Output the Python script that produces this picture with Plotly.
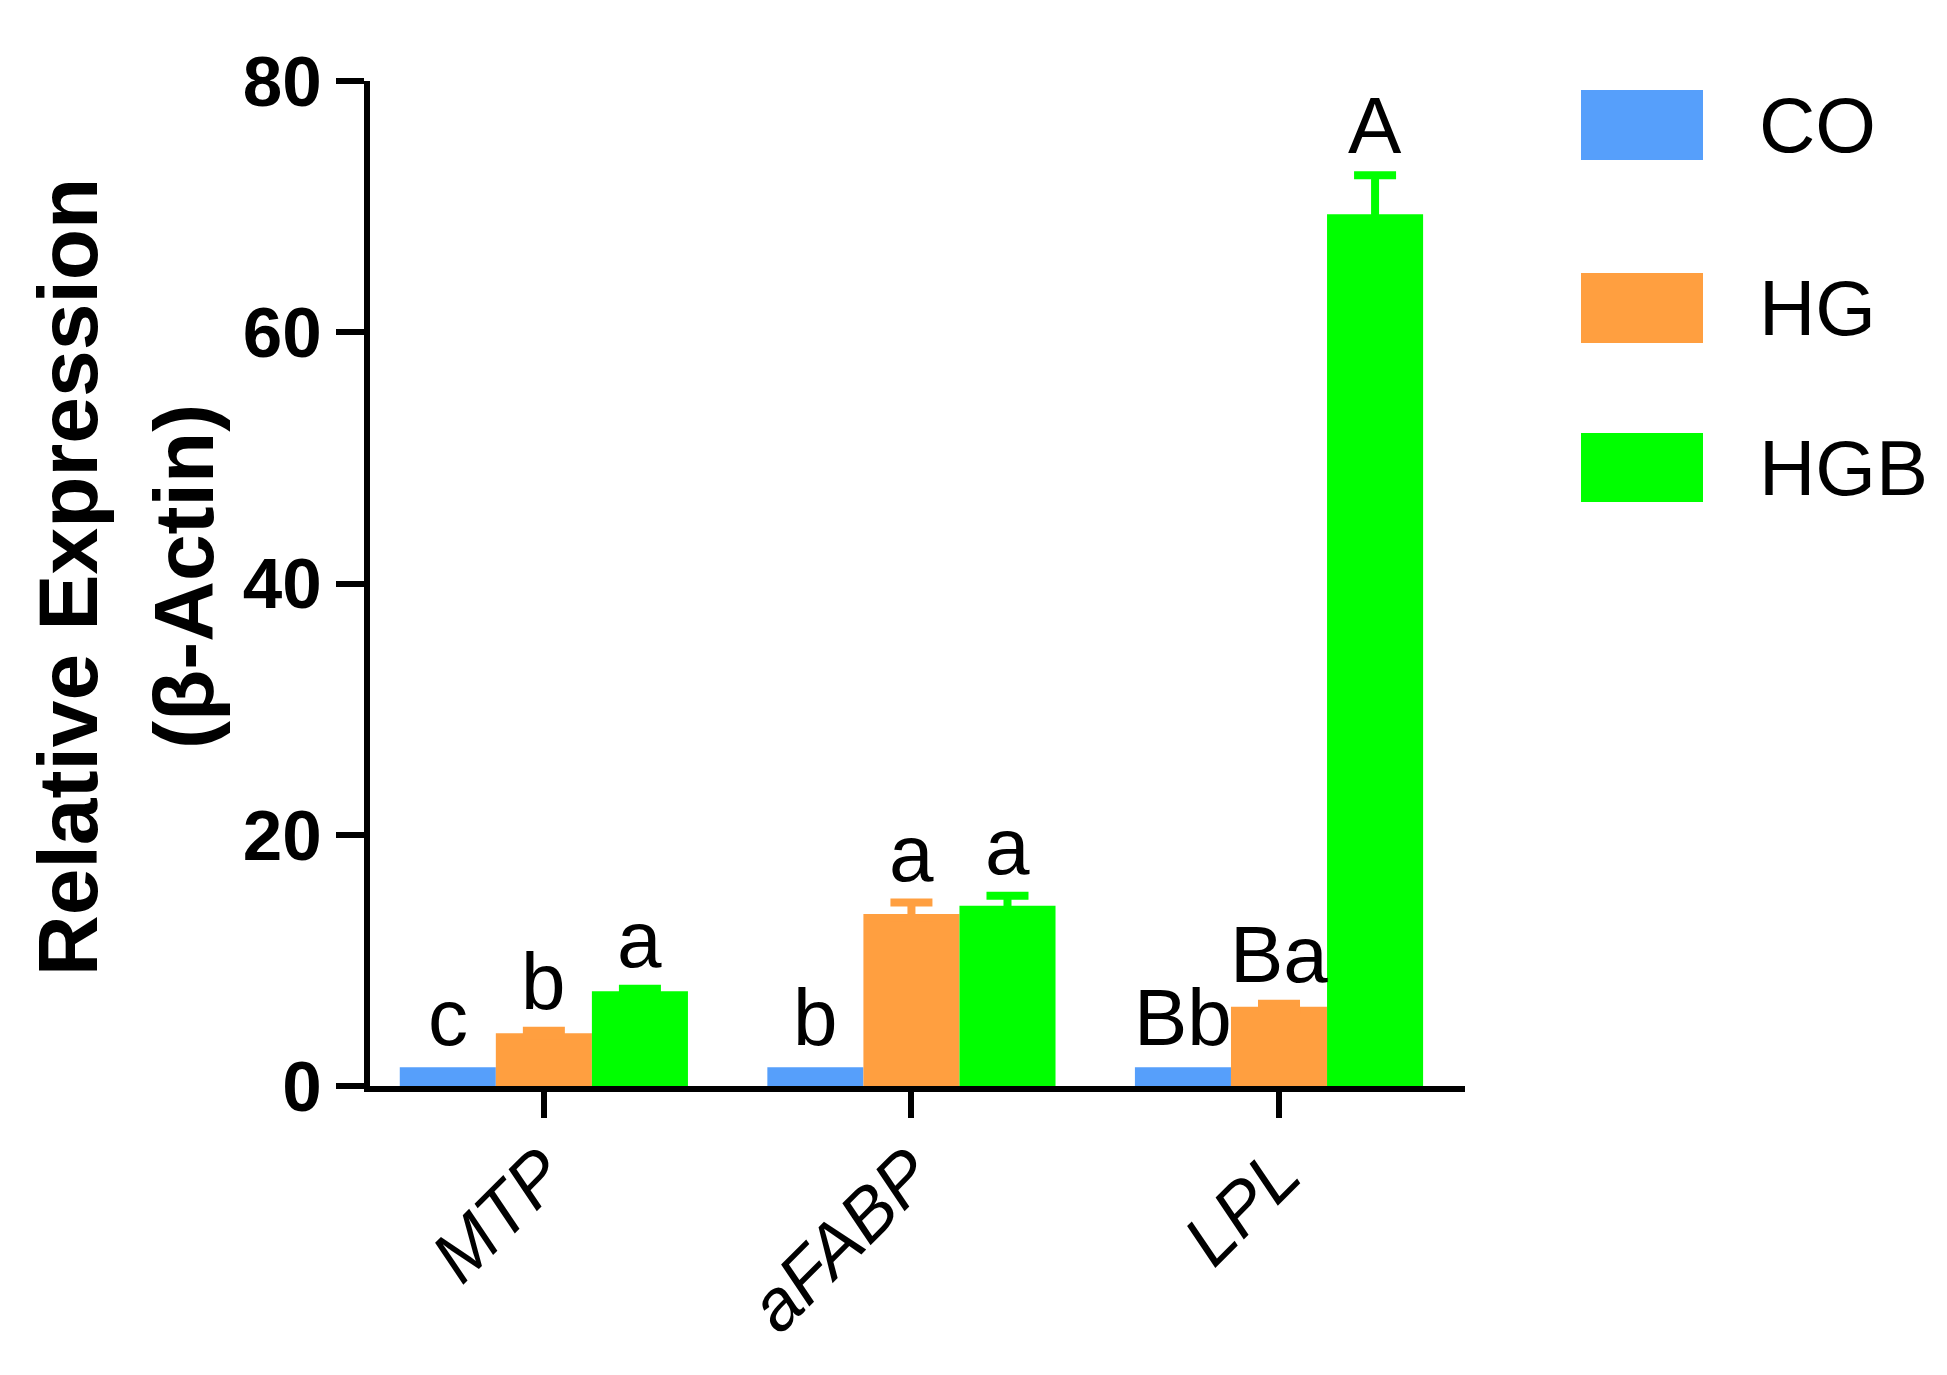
import plotly.graph_objects as go

# ---------------- data ----------------
genes = ["MTP", "aFABP", "LPL"]
series = ["CO", "HG", "HGB"]
colors = ["#569FFB", "#FF9F40", "#00FF00"]
co_vals = [1.5, 1.5, 1.5]
hg_vals = [4.2, 13.7, 6.3]
hgb_vals = [7.55, 14.35, 69.4]
co_err = [0.0, 0.0, 0.0]
hg_err = [0.2, 0.9, 0.25]
hgb_err = [0.2, 0.8, 3.1]
co_letters = ["c", "b", "Bb"]
hg_letters = ["b", "a", "Ba"]
hgb_letters = ["a", "a", "A"]
y_ticks = [0, 20, 40, 60, 80]
y_title_lines = ["Relative Expression", "(β-Actin)"]

values = [co_vals, hg_vals, hgb_vals]
errors = [co_err, hg_err, hgb_err]
letters = [co_letters, hg_letters, hgb_letters]

# ---------------- style ----------------
W, H = 1947, 1375
ML, MR, MT, MB = 370, 482, 81, 289
BARGAP = 0.216
FONT = "Liberation Sans, Arial, sans-serif"

fig = go.Figure()
for name, col, vals, errs in zip(series, colors, values, errors):
    fig.add_trace(go.Bar(
        x=genes, y=vals, name=name,
        marker=dict(color=col, line=dict(width=0)),
        error_y=dict(type="data", symmetric=True, array=errs,
                     visible=any(e > 0 for e in errs), color=col,
                     thickness=8, width=21),
        showlegend=False,
    ))

# significance letters above bars
n = len(series)
bw = (1 - BARGAP) / n
for i, (vals, errs, labs) in enumerate(zip(values, errors, letters)):
    off = (i - (n - 1) / 2) * bw
    for j, (v, e, t) in enumerate(zip(vals, errs, labs)):
        fig.add_annotation(
            x=j + off, y=v + e, xref="x", yref="y", text=t,
            showarrow=False, xanchor="center", yanchor="bottom", yshift=3,
            font=dict(family=FONT, size=80, color="black"),
        )

# custom legend (boxes + labels)
pw, ph = W - ML - MR, H - MT - MB
leg_box_px = [(90, 160), (273, 343), (433, 502)]
bx0, bx1, tx = 1581, 1703, 1757
for name, col, (py0, py1) in zip(series, colors, leg_box_px):
    fig.add_shape(type="rect", xref="paper", yref="paper",
                  x0=(bx0 - ML) / pw, x1=(bx1 - ML) / pw,
                  y0=(H - MB - py1) / ph, y1=(H - MB - py0) / ph,
                  fillcolor=col, line=dict(width=0))
    fig.add_annotation(xref="paper", yref="paper",
                       x=(tx - ML) / pw, y=(H - MB - (py0 + py1) / 2) / ph,
                       text=name, showarrow=False, xanchor="left", yanchor="middle",
                       font=dict(family=FONT, size=78, color="black"))

# y-axis title (two rotated lines)
for line, cx in zip(y_title_lines, [68, 184]):
    fig.add_annotation(xref="paper", yref="paper",
                       x=(cx - ML) / pw, y=(H - MB - 577) / ph,
                       text="<b>" + line + "</b>",
                       textangle=-90, showarrow=False, xanchor="center", yanchor="middle",
                       font=dict(family=FONT, size=84, color="black"))

fig.update_layout(
    width=W, height=H,
    margin=dict(l=ML, r=MR, t=MT, b=MB, pad=0),
    paper_bgcolor="white", plot_bgcolor="white",
    barmode="group", bargap=BARGAP, bargroupgap=0,
    showlegend=False,
)
fig.update_xaxes(
    type="category", range=[-0.473, 2.506],
    showline=True, linecolor="black", linewidth=6,
    ticks="outside", ticklen=26, tickwidth=6, tickcolor="black",
    tickangle=-45, showgrid=False, zeroline=False, ticklabelstandoff=-15,
    tickfont=dict(family=FONT, size=72, color="black", style="italic"),
)
fig.update_yaxes(
    range=[0, 80], tickvals=y_ticks,
    showline=True, linecolor="black", linewidth=6,
    ticks="outside", ticklen=28, tickwidth=6, tickcolor="black",
    showgrid=False, zeroline=False,
    tickfont=dict(family=FONT, size=71, color="black", weight="bold"),
)

fig.write_html("out.html", config={"displayModeBar": False},
               post_script="document.body.style.margin='0';")
